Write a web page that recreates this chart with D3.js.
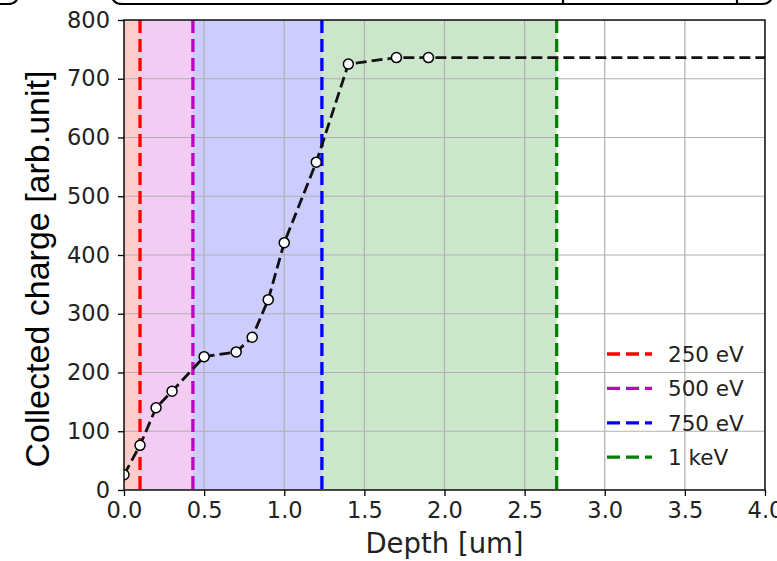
<!DOCTYPE html>
<html>
<head>
<meta charset="utf-8">
<script src="https://cdn.jsdelivr.net/npm/d3@7"></script>
<style>
  html, body { margin: 0; padding: 0; background: #fff; }
  svg { display: block; }
</style>
</head>
<body>
<div id="graph"></div>
<script>
const depth = [0.0, 0.1, 0.2, 0.3, 0.5, 0.7, 0.8, 0.9, 1.0, 1.2, 1.4, 1.7, 1.9],
      charge = [26, 76, 140, 168, 227, 235, 260, 324, 421, 558, 725, 736, 736],
      tailDepth = [1.9, 4.0],
      tailCharge = [736, 736]

const energyLabels = ['250 eV', '500 eV', '750 eV', '1 keV'],
      rangeDepth = [0.1, 0.43, 1.235, 2.70],
      energyColors = ['#ff0000', '#bf00bf', '#0000ff', '#008000']

const xTicks = [0, 0.5, 1.0, 1.5, 2.0, 2.5, 3.0, 3.5, 4.0],
      yTicks = [0, 100, 200, 300, 400, 500, 600, 700, 800]

const SIZE = Object.freeze({ WIDTH: 777, HEIGHT: 561 }),
      PLOT = Object.freeze({ LEFT: 124, RIGHT: 765, TOP: 20, BOTTOM: 490 })

const TICK_FONT = 'DejaVu Sans, sans-serif'

const xScale = d3.scaleLinear().domain([0, 4]).range([PLOT.LEFT, PLOT.RIGHT]),
      yScale = d3.scaleLinear().domain([0, 800]).range([PLOT.BOTTOM, PLOT.TOP])

const svg = d3.select('#graph')
  .append('svg')
  .attr('width', SIZE.WIDTH)
  .attr('height', SIZE.HEIGHT)

// bits of the boxes above the axes, cut off by the crop
const deco = svg.append('g')
  .attr('fill', 'none')
  .attr('stroke', '#000')
  .attr('stroke-width', 2.2)
deco.append('path').attr('d', 'M-10,4 L8,4 Q18,4 18,-6')
deco.append('path').attr('d', 'M112,-6 Q112,4 122,4 L762,4 Q772,4 772,-6')
deco.append('path').attr('d', 'M563,-2 L563,3 M737,-2 L737,3')

svg.append('clipPath')
  .attr('id', 'plot-clip')
  .append('rect')
  .attr('x', PLOT.LEFT)
  .attr('y', PLOT.TOP)
  .attr('width', PLOT.RIGHT - PLOT.LEFT)
  .attr('height', PLOT.BOTTOM - PLOT.TOP)

const plot = svg.append('g').attr('clip-path', 'url(#plot-clip)')

// shaded ranges
const spanStarts = [0, ...rangeDepth.slice(0, -1)]
plot.selectAll('rect.span')
  .data(rangeDepth)
  .enter()
  .append('rect')
  .attr('class', 'span')
  .attr('x', (d, i) => xScale(spanStarts[i]))
  .attr('y', PLOT.TOP)
  .attr('width', (d, i) => xScale(d) - xScale(spanStarts[i]))
  .attr('height', PLOT.BOTTOM - PLOT.TOP)
  .attr('fill', (d, i) => energyColors[i])
  .attr('fill-opacity', 0.2)

// grid
plot.selectAll('line.gx')
  .data(xTicks)
  .enter()
  .append('line')
  .attr('x1', d => xScale(d))
  .attr('x2', d => xScale(d))
  .attr('y1', PLOT.TOP)
  .attr('y2', PLOT.BOTTOM)
  .attr('stroke', '#b0b0b0')
  .attr('stroke-width', 1.2)
plot.selectAll('line.gy')
  .data(yTicks)
  .enter()
  .append('line')
  .attr('x1', PLOT.LEFT)
  .attr('x2', PLOT.RIGHT)
  .attr('y1', d => yScale(d))
  .attr('y2', d => yScale(d))
  .attr('stroke', '#b0b0b0')
  .attr('stroke-width', 1.2)

// range lines
plot.selectAll('line.range')
  .data(rangeDepth)
  .enter()
  .append('line')
  .attr('x1', d => xScale(d))
  .attr('x2', d => xScale(d))
  .attr('y1', PLOT.TOP)
  .attr('y2', PLOT.BOTTOM)
  .attr('stroke', (d, i) => energyColors[i])
  .attr('stroke-width', 3.3)
  .attr('stroke-dasharray', '13,6')

// data line
const line = d3.line()
  .x(d => xScale(d[0]))
  .y(d => yScale(d[1]))
const points = depth.map((d, i) => [d, charge[i]]),
      tail = tailDepth.map((d, i) => [d, tailCharge[i]])

plot.append('path')
  .datum(points.concat(tail.slice(1)))
  .attr('d', line)
  .attr('fill', 'none')
  .attr('stroke', '#111')
  .attr('stroke-width', 2.8)
  .attr('stroke-dasharray', '11,5')

plot.selectAll('circle')
  .data(points)
  .enter()
  .append('circle')
  .attr('cx', d => xScale(d[0]))
  .attr('cy', d => yScale(d[1]))
  .attr('r', 5)
  .attr('fill', '#fff')
  .attr('stroke', '#000')
  .attr('stroke-width', 1.5)

// axes
const xAxis = d3.axisBottom(xScale)
  .tickValues(xTicks)
  .tickFormat(d3.format('.1f'))
  .tickSize(6)
  .tickPadding(6)
const yAxis = d3.axisLeft(yScale)
  .tickValues(yTicks)
  .tickFormat(d3.format('d'))
  .tickSize(6)
  .tickPadding(8)

const gx = svg.append('g')
  .attr('transform', `translate(0,${PLOT.BOTTOM})`)
  .call(xAxis)
const gy = svg.append('g')
  .attr('transform', `translate(${PLOT.LEFT},0)`)
  .call(yAxis)

;[gx, gy].forEach(g => {
  g.select('.domain').remove()
  g.selectAll('.tick line').attr('stroke', '#000').attr('stroke-width', 1.3)
  g.selectAll('.tick text')
    .attr('fill', '#222')
    .style('font-family', TICK_FONT)
    .style('font-size', '22.5px')
})

svg.append('rect')
  .attr('x', PLOT.LEFT)
  .attr('y', PLOT.TOP)
  .attr('width', PLOT.RIGHT - PLOT.LEFT)
  .attr('height', PLOT.BOTTOM - PLOT.TOP)
  .attr('fill', 'none')
  .attr('stroke', '#000')
  .attr('stroke-width', 1.4)

// axis labels
svg.append('text')
  .attr('x', (PLOT.LEFT + PLOT.RIGHT) / 2)
  .attr('y', 553)
  .attr('text-anchor', 'middle')
  .attr('fill', '#222')
  .style('font-family', TICK_FONT)
  .style('font-size', '27.5px')
  .text('Depth [um]')

svg.append('text')
  .attr('transform', 'translate(49,269) rotate(-90)')
  .attr('text-anchor', 'middle')
  .attr('fill', '#000')
  .style('font-family', 'Liberation Sans, Arial, sans-serif')
  .style('font-size', '34px')
  .text('Collected charge [arb.unit]')

// legend
const legend = svg.append('g')
  .attr('transform', 'translate(607,354)')
legend.selectAll('line')
  .data(energyLabels)
  .enter()
  .append('line')
  .attr('x1', 0)
  .attr('x2', 45)
  .attr('y1', (d, i) => i * 34.4)
  .attr('y2', (d, i) => i * 34.4)
  .attr('stroke', (d, i) => energyColors[i])
  .attr('stroke-width', 3.3)
  .attr('stroke-dasharray', '13,6')
legend.selectAll('text')
  .data(energyLabels)
  .enter()
  .append('text')
  .attr('x', 61)
  .attr('y', (d, i) => i * 34.4)
  .attr('dy', '0.36em')
  .attr('fill', '#222')
  .style('font-family', TICK_FONT)
  .style('font-size', '21.5px')
  .text(d => d)
</script>
</body>
</html>
